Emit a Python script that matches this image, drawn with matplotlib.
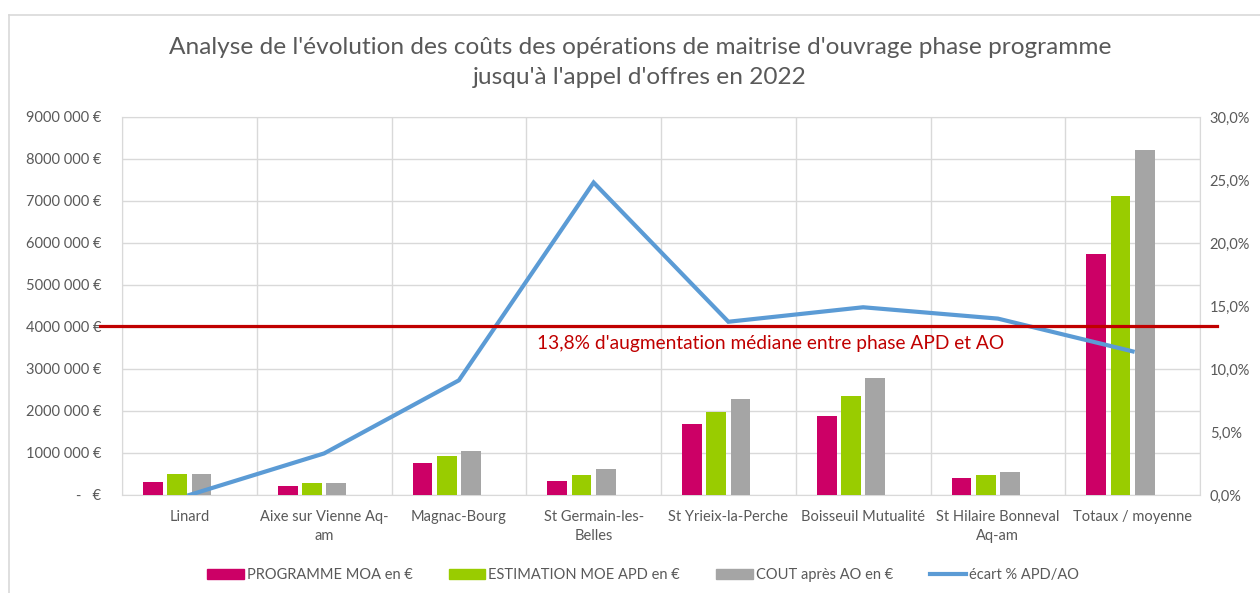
import matplotlib.pyplot as plt
from matplotlib.lines import Line2D
from matplotlib.patches import Patch
from matplotlib.ticker import FuncFormatter, MultipleLocator
import numpy as np

plt.rcParams['font.family'] = ['Lato', 'DejaVu Sans']

# Données
operations = [
    "Linard", "Aixe sur Vienne Aq-\nam", "Magnac-Bourg", "St Germain-les-\nBelles",
    "St Yrieix-la-Perche", "Boisseuil Mutualité", "St Hilaire Bonneval\nAq-am",
    "Totaux / moyenne",
]
programme_moa = [320000, 210000, 770000, 330000, 1680000, 1880000, 400000, 5750000]
estimation_moe = [490000, 280000, 940000, 480000, 1980000, 2360000, 470000, 7120000]
cout_apres_ao = [490000, 290000, 1050000, 630000, 2290000, 2790000, 540000, 8210000]
ecart_pct = [0.0, 3.3, 9.1, 24.8, 13.75, 14.9, 14.0, 11.4]

mediane_pct = 13.4
texte_mediane = "13,8% d'augmentation médiane entre phase APD et AO"

gris_txt = '#595959'
gris_grille = '#D9D9D9'

fig = plt.figure(figsize=(12.6, 5.93), dpi=100)
ax = fig.add_axes([122 / 1260, 1 - 495 / 593, (1200 - 122) / 1260, (495 - 117) / 593])
ax2 = ax.twinx()

x = np.arange(len(operations))
largeur = 0.145
pas = 0.18
ax.bar(x - 1.5 * pas, programme_moa, largeur, color='#CC0066', zorder=3)
ax.bar(x - 0.5 * pas, estimation_moe, largeur, color='#99CC00', zorder=3)
ax.bar(x + 0.5 * pas, cout_apres_ao, largeur, color='#A5A5A5', zorder=3)

ax.set_xlim(-0.5, len(operations) - 0.5)
ax.set_ylim(0, 9000000)
ax.yaxis.set_major_locator(MultipleLocator(1000000))


def fmt_euro(v, pos):
    v = int(round(v))
    if v == 0:
        return "-   €"
    return f"{v // 1000}\u00a0{v % 1000:03d} €"


ax.yaxis.set_major_formatter(FuncFormatter(fmt_euro))
ax.set_xticks(x)
ax.set_xticklabels(operations, fontsize=10.5, color=gris_txt, linespacing=1.45)
ax.set_xticks(np.arange(-0.5, len(operations)), minor=True)
ax.tick_params(axis='x', which='both', length=0, pad=11)
ax.tick_params(axis='y', length=0, pad=15, labelsize=10.5, labelcolor=gris_txt)
ax.grid(axis='y', color=gris_grille, linewidth=1)
ax.grid(axis='x', which='minor', color=gris_grille, linewidth=1)
ax.set_axisbelow(True)
for s in ax.spines.values():
    s.set_color(gris_grille)
for s in ax2.spines.values():
    s.set_visible(False)

# Écart en pourcentage (axe secondaire)
ax2.plot(x, ecart_pct, color='#5B9BD5', linewidth=3, solid_joinstyle='miter', zorder=4)
ax2.set_ylim(0, 30)
ax2.yaxis.set_major_locator(MultipleLocator(5))
ax2.yaxis.set_major_formatter(FuncFormatter(lambda v, p: f"{v:.1f}%".replace(".", ",")))
ax2.tick_params(axis='y', length=0, pad=7, labelsize=10.5, labelcolor=gris_txt)

# Ligne médiane ajoutée à la main
ax2.axhline(mediane_pct, xmin=-0.02, xmax=1.016, color='#C00000', linewidth=2.3, clip_on=False, zorder=5)
ax2.text(2.58, 12.06, texte_mediane, color='#C00000', fontsize=13.8, va='center', ha='left')

fig.text(0.508, 1 - 47 / 593, "Analyse de l'évolution des coûts des opérations de maitrise d'ouvrage phase programme",
         ha='center', va='center', fontsize=17.6, color=gris_txt)
fig.text(0.508, 1 - 78 / 593, "jusqu'à l'appel d'offres en 2022",
         ha='center', va='center', fontsize=17.6, color=gris_txt)

handles = [
    Patch(color='#CC0066', label='PROGRAMME MOA en €'),
    Patch(color='#99CC00', label='ESTIMATION MOE APD en €'),
    Patch(color='#A5A5A5', label='COUT après AO en €'),
    Line2D([], [], color='#5B9BD5', linewidth=3, label='écart % APD/AO'),
]
fig.legend(handles=handles, loc='center', bbox_to_anchor=(643 / 1260, 1 - 575 / 593), ncol=4,
           frameon=False, fontsize=10.5, handlelength=2.5, handleheight=0.7, handletextpad=0.2,
           columnspacing=2.5, labelcolor=gris_txt)

# Bordure de la zone de graphique
fig.add_artist(Line2D([9 / 1260, 1], [1 - 14.5 / 593, 1 - 14.5 / 593], color=gris_grille, linewidth=1.2))
fig.add_artist(Line2D([9 / 1260, 9 / 1260], [0, 1 - 14.5 / 593], color=gris_grille, linewidth=1.2))

fig.savefig('out.png', dpi=100, facecolor='white')
